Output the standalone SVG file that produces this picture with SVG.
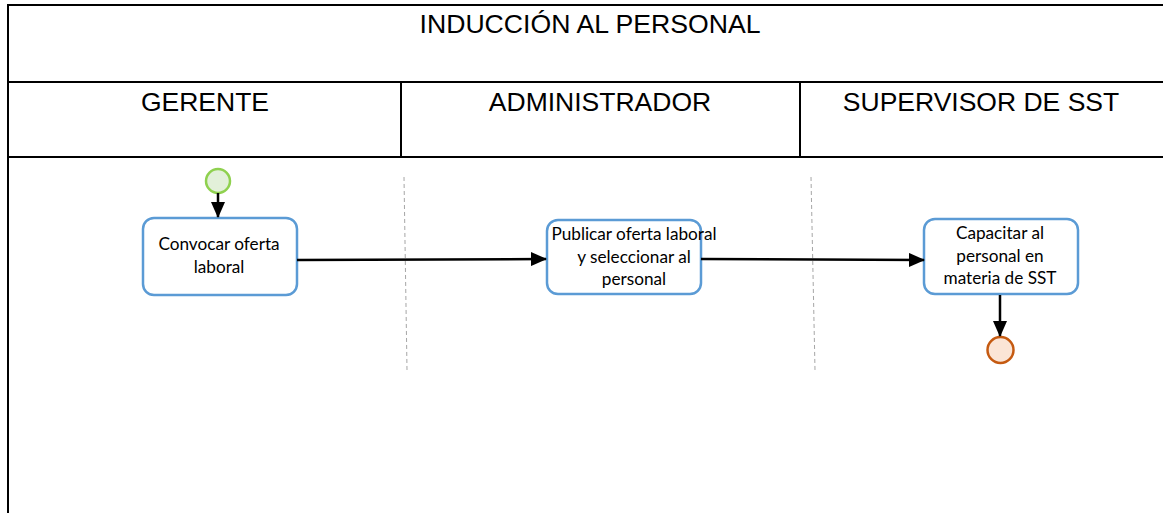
<svg xmlns="http://www.w3.org/2000/svg" width="1163" height="513" viewBox="0 0 1163 513">
<style>
.frame{stroke:#000;stroke-width:2;fill:none}
.hdr{font-family:"Liberation Sans",Arial,sans-serif;font-size:26.5px;fill:#000;text-anchor:middle}
.lane{stroke:#a6a6a6;stroke-width:1;stroke-dasharray:4,3;fill:none}
.task{fill:#fff;stroke:#5b9bd5;stroke-width:2.5}
.tt{font-family:Lato,"Open Sans",sans-serif;font-size:17.2px;fill:#000;text-anchor:middle}
.flow{stroke:#000;stroke-width:2.5;fill:none;marker-end:url(#ah)}
</style>
<defs>
<marker id="ah" markerWidth="16" markerHeight="14" refX="15" refY="7" orient="auto" markerUnits="userSpaceOnUse">
<path d="M0,0 L16,7 L0,14 Z" fill="#000"/>
</marker>
</defs>
<rect width="1163" height="513" fill="#fff"/>
<g id="header">
<path class="frame" d="M8,513 V5 H1163 M8,82 H1163 M8,157 H1163 M401,82 V157 M800,82 V157"/>
<text class="hdr" x="590" y="33" textLength="341" lengthAdjust="spacingAndGlyphs">INDUCCIÓN AL PERSONAL</text>
<text class="hdr" x="205" y="111">GERENTE</text>
<text class="hdr" x="600" y="111">ADMINISTRADOR</text>
<text class="hdr" x="981" y="111">SUPERVISOR DE SST</text>
</g>
<g id="lanes">
<line class="lane" x1="404" y1="177" x2="407" y2="370"/>
<line class="lane" x1="811" y1="177" x2="815" y2="370"/>
</g>
<g id="start">
<circle cx="218" cy="181" r="12" fill="#e2f0d9" stroke="#8fd14f" stroke-width="2.5"/>
</g>
<g id="task1">
<rect class="task" x="143" y="218" width="154" height="77" rx="11"/>
<text class="tt" x="219" y="250">Convocar oferta</text>
<text class="tt" x="219" y="273">laboral</text>
</g>
<g id="task2">
<rect class="task" x="547" y="220" width="154" height="74" rx="11"/>
<text class="tt" x="634" y="240">Publicar oferta laboral</text>
<text class="tt" x="634" y="263">y seleccionar al</text>
<text class="tt" x="634" y="285">personal</text>
</g>
<g id="task3">
<rect class="task" x="924" y="219" width="154" height="75" rx="11"/>
<text class="tt" x="1000" y="239">Capacitar al</text>
<text class="tt" x="1000" y="262">personal en</text>
<text class="tt" x="1000" y="284">materia de SST</text>
</g>
<g id="end">
<circle cx="1000.5" cy="350" r="13" fill="#fbe5d6" stroke="#c55a11" stroke-width="2.5"/>
</g>
<g id="connectors">
<line class="flow" x1="218" y1="193" x2="218" y2="217"/>
<line class="flow" x1="297" y1="260" x2="546" y2="259"/>
<line class="flow" x1="701" y1="259" x2="924" y2="260"/>
<line class="flow" x1="1000" y1="295" x2="1000" y2="336"/>
</g>
</svg>
